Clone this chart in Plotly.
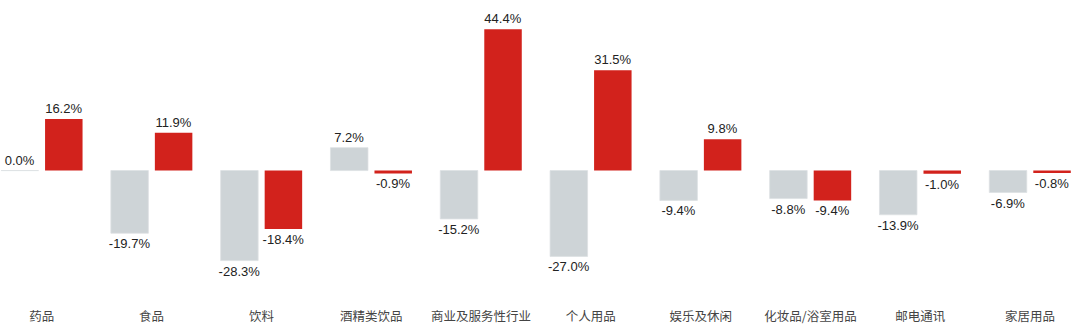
import plotly.graph_objects as go

categories = ["药品", "食品", "饮料", "酒精类饮品", "商业及服务性行业", "个人用品", "娱乐及休闲", "化妆品/浴室用品", "邮电通讯", "家居用品"]
series_a = [0.0, -19.7, -28.3, 7.2, -15.2, -27.0, -9.4, -8.8, -13.9, -6.9]
series_b = [16.2, 11.9, -18.4, -0.9, 44.4, 31.5, 9.8, -9.4, -1.0, -0.8]

fmt = lambda v: f"{v:.1f}%"

fig = go.Figure()
fig.add_trace(go.Bar(
    x=list(range(len(categories))), y=series_a,
    marker=dict(color="#CED4D7", line=dict(color="#DDE1E3", width=0.8)),
    text=[fmt(v) for v in series_a], textposition="outside", constraintext="none",
    textfont=dict(family="Liberation Sans, Arial, sans-serif", size=13, color="#222"),
    cliponaxis=False, showlegend=False,
))
fig.add_trace(go.Bar(
    x=list(range(len(categories))), y=series_b,
    marker=dict(color="#D2221C", line=dict(width=0)),
    text=[fmt(v) for v in series_b], textposition="outside", constraintext="none",
    textfont=dict(family="Liberation Sans, Arial, sans-serif", size=13, color="#222"),
    cliponaxis=False, showlegend=False,
))

fig.update_layout(
    width=1080, height=331,
    margin=dict(l=0, r=0, t=0, b=30),
    paper_bgcolor="white", plot_bgcolor="white",
    barmode="group", bargap=0.1985, bargroupgap=0.148,
    xaxis=dict(
        range=[-0.3807, 9.455], tickmode="array",
        tickvals=list(range(len(categories))), ticktext=categories,
        showgrid=False, zeroline=False, showline=False, ticks="",
        ticklabelstandoff=6,
        tickfont=dict(family="Noto Sans CJK SC, sans-serif", size=12.5, color="#444"),
    ),
    yaxis=dict(range=[-41.0, 53.6], visible=False, showgrid=False, zeroline=False),
)

fig.write_html("out.html")
